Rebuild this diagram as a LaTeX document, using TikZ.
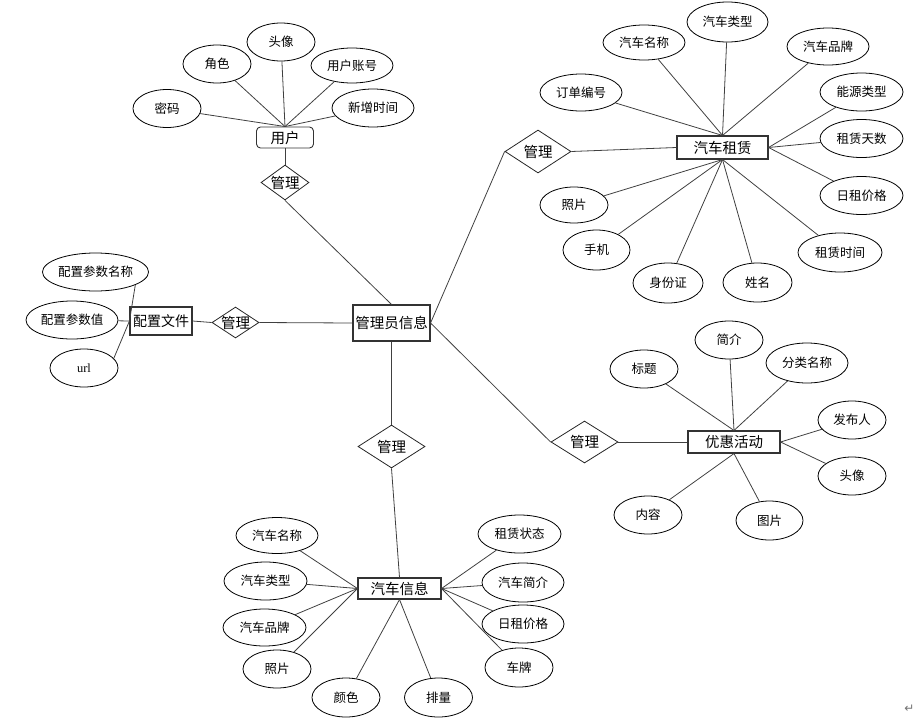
\documentclass[tikz,border=0pt]{standalone}
\usepackage{fontspec}
\setmainfont{Noto Sans CJK SC}
\newfontfamily\urlfont{Liberation Serif}
\newfontfamily\symfont{DejaVu Sans}
\usetikzlibrary{shapes.geometric}
\begin{document}
\begin{tikzpicture}[x=1pt,y=-1pt,
  attr/.style={ellipse,draw=black,line width=0.8pt,inner sep=0pt,minimum width=68pt,minimum height=38pt,font=\fontsize{12.5}{14}\selectfont},
  wattr/.style={attr,minimum width=82pt},
  ent/.style={rectangle,draw=black!80,line width=1.1pt,inner sep=0pt,font=\fontsize{14.5}{16}\selectfont},
  rel/.style={diamond,draw=black!85,line width=0.8pt,inner sep=0pt,minimum width=#1,font=\fontsize{14.5}{16}\selectfont},
  link/.style={draw=black!75,line width=0.8pt}]
\useasboundingbox (0,0) rectangle (918,720);

% ---------- central entity ----------
\node[ent,minimum width=77pt,minimum height=36pt] (admin) at (391.5,323) {管理员信息};

% ---------- user ----------
\node[ent,rounded corners=4pt,minimum width=57pt,minimum height=21pt,line width=0.9pt] (user) at (285,137.5) {用户};
\node[attr] (pwd) at (167,108.5) {密码};
\node[attr] (role) at (217,64) {角色};
\node[attr] (avatar) at (281,42) {头像};
\node[wattr,minimum height=35pt] (acct) at (352,65.5) {用户账号};
\node[wattr] (addtime) at (373,108) {新增时间};
\node[rel=48pt,minimum height=35pt,label={[font=\fontsize{14.5}{16}\selectfont]center:管理}] (r1) at (285,182.5) {};
\foreach \a in {pwd,role,avatar,acct,addtime} \draw[link] (\a) -- (user.north);
\draw[link] (user) -- (r1);
\draw[link] (r1.south) -- (admin.north);

% ---------- config ----------
\node[ent,minimum width=62pt,minimum height=28pt,font=\fontsize{14}{16}\selectfont] (cfg) at (161,321) {配置文件};
\node[attr,minimum width=105pt] (pname) at (95.5,272) {配置参数名称};
\node[attr,minimum width=92pt] (pval) at (72,320) {配置参数值};
\node[attr,font=\urlfont\fontsize{12.5}{14}\selectfont] (url) at (84,368) {url};
\node[rel=47pt,minimum height=31pt,label={[font=\fontsize{14.5}{16}\selectfont]center:管理}] (r2) at (235.5,322.5) {};
\draw[link] (pname.-18) -- (cfg.west);
\draw[link] (pval) -- (cfg.west);
\draw[link] (url.18) -- (cfg.west);
\draw[link] (cfg.east) -- (r2.west);
\draw[link] (r2.east) -- (admin.west);

% ---------- car rental ----------
\node[ent,minimum width=91pt,minimum height=23pt] (rent) at (722.5,147.5) {汽车租赁};
\node[rel=66pt,minimum height=43pt,label={[font=\fontsize{14.5}{16}\selectfont]center:管理}] (r3) at (538,151.5) {};
\node[wattr,minimum height=37pt] (orderno) at (581,92.5) {订单编号};
\node[wattr,minimum height=35pt] (rname) at (644,42.5) {汽车名称};
\node[wattr,minimum width=81pt,minimum height=40pt] (rtype) at (727.5,22) {汽车类型};
\node[wattr,minimum height=37pt] (rbrand) at (828,46.5) {汽车品牌};
\node[wattr,minimum width=83pt] (energy) at (861.5,92) {能源类型};
\node[wattr,minimum width=83pt] (days) at (861.5,138.5) {租赁天数};
\node[wattr,minimum width=83pt] (rprice) at (861.5,195.5) {日租价格};
\node[wattr,minimum width=84pt,minimum height=39pt] (rtime) at (840,252.5) {租赁时间};
\node[attr,minimum width=69pt,minimum height=39pt] (uname) at (757.5,282.5) {姓名};
\node[attr,minimum width=70pt,minimum height=40pt] (idcard) at (668,283) {身份证};
\node[attr,minimum width=67pt,minimum height=40pt] (phone) at (596.5,250) {手机};
\node[attr,minimum height=36pt] (rphoto) at (574,205) {照片};
\foreach \a in {orderno,rname,rtype,rbrand} \draw[link] (\a) -- (rent.north);
\foreach \a in {energy,days,rprice} \draw[link] (\a) -- (rent.east);
\foreach \a in {rtime,uname,idcard,phone,rphoto} \draw[link] (\a) -- (rent.south);
\draw[link] (r3.east) -- (rent.west);
\draw[link] (r3.west) -- (admin.east);

% ---------- promotion ----------
\node[ent,minimum width=92pt,minimum height=22pt] (promo) at (734,442) {优惠活动};
\node[rel=67pt,minimum height=42pt,label={[font=\fontsize{14.5}{16}\selectfont]center:管理}] (r4) at (584.5,442) {};
\node[attr] (title) at (644,369) {标题};
\node[attr] (intro) at (729,340) {简介};
\node[wattr,minimum height=40pt] (cat) at (807,363) {分类名称};
\node[attr] (pub) at (852,420) {发布人};
\node[attr] (pavatar) at (852,476) {头像};
\node[attr,minimum width=67pt,minimum height=39pt] (pic) at (769.5,520.5) {图片};
\node[attr] (content) at (648,515) {内容};
\foreach \a in {title,intro,cat} \draw[link] (\a) -- (promo.north);
\foreach \a in {pub,pavatar} \draw[link] (\a) -- (promo.east);
\foreach \a in {pic,content} \draw[link] (\a) -- (promo.south);
\draw[link] (r4.east) -- (promo.west);
\draw[link] (r4.west) -- (admin.east);

% ---------- car info ----------
\node[ent,minimum width=83pt,minimum height=21pt] (car) at (399.5,588.5) {汽车信息};
\node[rel=67pt,minimum height=43pt,label={[font=\fontsize{14.5}{16}\selectfont]center:管理}] (r5) at (391.5,446.5) {};
\node[wattr,minimum height=36pt] (cname) at (277,535.5) {汽车名称};
\node[wattr,minimum width=83pt] (ctype) at (265.5,581) {汽车类型};
\node[wattr,minimum width=83pt,minimum height=37pt] (cbrand) at (264.5,627.5) {汽车品牌};
\node[attr] (cphoto) at (277,669) {照片};
\node[attr,minimum height=39pt] (color) at (346,697.5) {颜色};
\node[attr,minimum height=39pt] (disp) at (438.5,697.5) {排量};
\node[wattr,minimum width=83pt] (status) at (519.5,534) {租赁状态};
\node[wattr,minimum height=39pt] (cintro) at (523,582.5) {汽车简介};
\node[wattr] (cprice) at (523,624) {日租价格};
\node[attr,minimum height=39pt] (plate) at (519,667.5) {车牌};
\foreach \a in {cname,ctype,cbrand,cphoto} \draw[link] (\a) -- (car.west);
\foreach \a in {color,disp} \draw[link] (\a) -- (car.south);
\foreach \a in {status,cintro,cprice,plate} \draw[link] (\a) -- (car.east);
\draw[link] (admin.south) -- (r5.north);
\draw[link] (r5.south) -- (car.north);

% ---------- paragraph mark ----------
\node[text=black!55,font=\symfont\fontsize{12}{12}\selectfont,inner sep=0pt] (pmark) at (909.5,709) {↵};
\end{tikzpicture}
\end{document}
